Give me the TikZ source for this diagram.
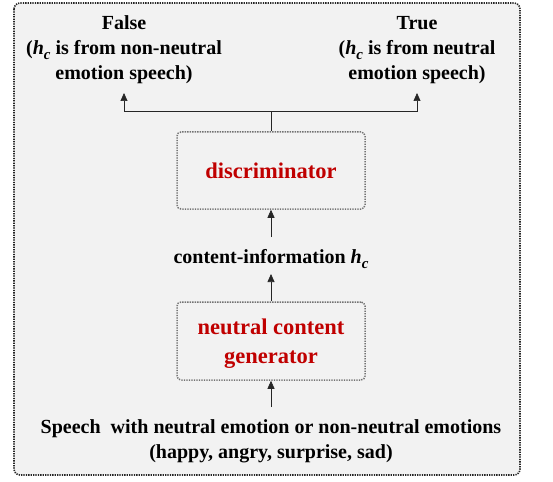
\documentclass[tikz,border=0pt]{standalone}
\usepackage{fontspec}
\setmainfont{Liberation Serif}
\usetikzlibrary{arrows.meta}
\definecolor{bg}{HTML}{F2F2F2}
\definecolor{redtxt}{HTML}{C00000}
\newcommand{\hc}{\textbf{\textit{h}}\raisebox{-0.25em}{\fontsize{15}{15}\selectfont\textbf{\textit{c}}}}
\tikzset{
  lbl/.style={font=\fontsize{20}{25}\selectfont\bfseries, align=center, inner sep=0pt},
  blk/.style={draw=black!55, dash pattern=on 1.3pt off 1.2pt, line width=1.5pt, rounded corners=4pt, fill=bg,
    minimum width=188pt},
  redlbl/.style={font=\fontsize{22.5}{29}\selectfont\bfseries, text=redtxt, inner sep=0pt, align=center},
  arr/.style={-{Triangle[length=8pt,width=7pt]}, line width=0.7pt, draw=black!85}
}
\begin{document}
\begin{tikzpicture}[x=1pt,y=-1pt]
\useasboundingbox (0,0) rectangle (553,481);
\draw[fill=bg, draw=black!85, dash pattern=on 1.3pt off 1.1pt, line width=1.6pt, rounded corners=6pt] (14,3) rectangle (520,475);
\node[blk, minimum height=77pt] (disc) at (271,170.5) {};
\node[blk, minimum height=78pt] (gen) at (271,341) {};
\node[redlbl, anchor=base] (disctxt) at (271,178) {discriminator};
\node[redlbl, anchor=base] (gentxt) at (271,363) {neutral content\\generator};
\node[lbl, anchor=base] (content) at (271,263) {content-information \hc};
\node[lbl, anchor=base] (false) at (124,80) {False\\(\hc{} is from non-neutral\\emotion speech)};
\node[lbl, anchor=base] (true) at (417,80) {True\\(\hc{} is from neutral\\emotion speech)};
\node[lbl, anchor=base] (speech) at (271,458) {Speech\ \ with neutral emotion or non-neutral emotions\\(happy, angry, surprise, sad)};
\coordinate (split) at (271,111);
\coordinate (fl) at (124,111);
\coordinate (tr) at (417,111);
\coordinate (flt) at (124,93);
\coordinate (trt) at (417,93);
\draw[line width=0.7pt, draw=black!85] (disc.north) -- (split);
\draw[arr] (split) -- (fl) -- (flt);
\draw[arr] (split) -- (tr) -- (trt);
\draw[arr] (271,237) -- (disc.south);
\draw[arr] (gen.north) -- (271,274);
\draw[arr] (271,407) -- (gen.south);
\end{tikzpicture}
\end{document}
